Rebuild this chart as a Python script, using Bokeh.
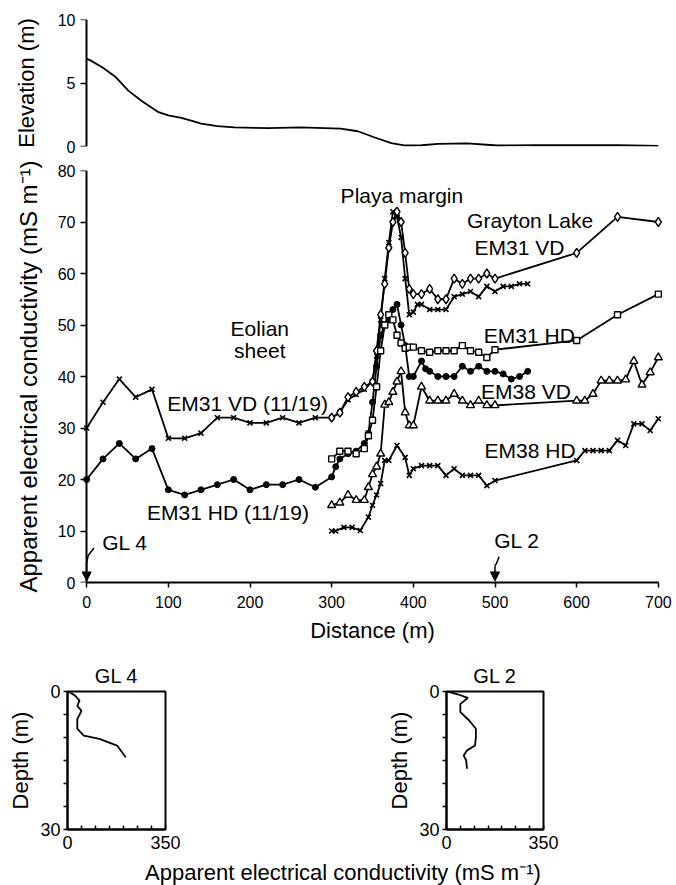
from bokeh.plotting import figure
from bokeh.layouts import column, row
from bokeh.models import Range1d, FixedTicker, Arrow, NormalHead, Label, LinearAxis
from bokeh.core.properties import value
from bokeh.embed import file_html
from bokeh.resources import INLINE

FONT = "Liberation Sans"

# ---------------- data ----------------
elev_dist = [0, 4, 20, 35, 51, 67, 88, 100, 116, 130, 140, 160, 181, 222, 262, 311, 332, 352, 373, 389, 410, 430, 466, 503, 550, 600, 650, 700]
elevation = [6.9, 6.8, 6.2, 5.5, 4.4, 3.6, 2.7, 2.45, 2.25, 2.0, 1.8, 1.6, 1.5, 1.45, 1.5, 1.4, 1.2, 0.73, 0.26, 0.08, 0.1, 0.2, 0.25, 0.08, 0.1, 0.1, 0.1, 0.05]

dist_em31vd_1119 = [0, 20, 40, 60, 80, 100, 120, 140, 160, 180, 200, 220, 240, 260, 280, 300, 310, 320, 330, 340,
                    350, 355, 360, 365, 370, 375, 380, 385, 390, 395, 400, 405,
                    410, 420, 430, 440, 450, 460, 470, 480, 490, 500, 510, 520, 530, 540]
em31vd_1119 = [30, 35, 39.5, 36, 37.5, 28, 28, 29, 32, 32, 31, 31, 32, 31, 32, 32, 33, 35.5, 36.5, 37.5,
               39, 44, 51, 59, 66, 72, 71, 67, 59, 52, 52.5, 54,
               54, 53, 53, 53, 55.5, 56, 56.5, 55.5, 57.5, 56.5, 57.5, 57.5, 58, 58]

dist_em31hd_1119 = [0, 20, 40, 60, 80, 100, 120, 140, 160, 180, 200, 220, 240, 260, 280, 300, 305, 310, 320, 330, 340, 345,
                    350, 355, 360, 365, 370, 375, 380, 385, 390, 395, 400,
                    410, 415, 420, 430, 440, 450, 460, 470, 480, 490, 500, 510, 520, 530, 540]
em31hd_1119 = [20, 24, 27, 24, 26, 18, 17, 18, 19, 20, 18, 19, 19, 20, 18.5, 20.5, 22.5, 24, 25, 25.5, 27, 29,
               35, 42, 48, 50, 51, 53, 54, 50, 46, 40, 40,
               43, 41.5, 41, 40, 40, 40, 42, 41, 42, 41, 41, 40.5, 39.5, 40, 41]

dist_em31vd = [300, 310, 320, 330, 340, 350, 355, 360, 365, 370, 375, 380, 385, 390, 395, 400,
               410, 420, 430, 440, 450, 460, 470, 480, 490, 500, 600, 650, 700]
em31vd = [32, 33, 36, 37, 38, 39, 45, 52, 58, 65, 70, 72, 70, 64, 57, 56,
          56, 57, 55, 55, 59, 58, 59, 59, 60, 59, 64, 71, 70]

dist_em31hd = [300, 310, 320, 330, 340, 345, 350, 355, 360, 365, 370, 375, 380, 385, 390, 395, 400,
               410, 420, 430, 440, 450, 460, 470, 480, 490, 500, 600, 650, 700]
em31hd = [24, 25.5, 25.5, 25, 26, 28.5, 31.5, 38, 45, 50, 52, 51, 48, 46.5, 45.5, 45.7, 45.7,
          45, 44.7, 45, 45, 45, 46, 45, 44.7, 43.7, 45.2, 47, 52, 56]

dist_em38vd = [300, 310, 320, 330, 340, 345, 350, 355, 360, 365, 370, 375, 380, 385, 390, 395, 400,
               410, 420, 430, 440, 450, 460, 470, 480, 490, 500,
               600, 610, 620, 630, 640, 650, 660, 670, 680, 690, 700]
em38vd = [15, 15.5, 17, 16, 16, 18.5, 21, 22.5, 25, 34.5, 35, 37, 39, 41, 33, 30.5, 30.5,
          38, 35.3, 35.3, 35.3, 36.6, 35.3, 34.4, 35.3, 34.4, 34.4,
          35.3, 35.3, 36.6, 39.2, 39.2, 39.2, 39.4, 43, 38.4, 40.8, 43.7]

dist_em38hd = [300, 305, 315, 325, 335, 345, 350, 355, 360, 365, 370, 380, 390, 395, 400,
               410, 420, 430, 440, 450, 460, 470, 480, 490, 500,
               600, 610, 620, 630, 640, 650, 660, 670, 680, 690, 700]
em38hd = [10, 10, 10.7, 10.7, 10.1, 12.7, 15, 17, 19.2, 23.7, 23.7, 26.6, 24.3, 20.8, 22.1,
          22.7, 22.7, 22.7, 20.8, 22.1, 20.8, 20.8, 20.8, 18.8, 19.8,
          23.7, 25.6, 25.6, 25.6, 25.6, 27.6, 26.6, 30.8, 30.8, 29.5, 31.8]

gl4_cond = [3, 27, 43, 35, 50, 35, 35, 58, 114, 177, 208]
gl4_depth = [0, 0.9, 2, 3.1, 4.2, 6, 8.1, 9.6, 10.3, 11.75, 14.3]
gl2_cond = [3, 40, 77, 50, 50, 82, 106, 106, 103, 74, 62, 71, 74]
gl2_depth = [0, 0.6, 1.4, 2.7, 4.5, 6.3, 8.1, 10, 11.75, 12.8, 13.9, 15, 16.8]

elev_ticks = [0, 5, 10]
cond_ticks = [0, 10, 20, 30, 40, 50, 60, 70, 80]
dist_ticks = [0, 100, 200, 300, 400, 500, 600, 700]
depth_ticks = [0, 5, 10, 15, 20, 25, 30]
well_cond_ticks = [0, 50, 100, 150, 200, 250, 300, 350]


def base_style(p):
    p.grid.visible = False
    p.outline_line_color = None
    p.background_fill_color = "white"
    p.border_fill_color = "white"


def axis_style(ax, tick_size="16px", label_size="22px"):
    ax.axis_line_color = "black"
    ax.axis_line_width = 2
    ax.major_tick_line_color = "black"
    ax.major_tick_line_width = 1.5
    ax.minor_tick_line_color = None
    ax.major_label_text_font = FONT
    ax.major_label_text_font_size = tick_size
    ax.major_label_text_color = "black"
    ax.axis_label_text_font = FONT
    ax.axis_label_text_font_size = label_size
    ax.axis_label_text_font_style = "normal"
    ax.axis_label_text_color = "black"


def split_y_axis(p, ticks, bounds, label, label_standoff, label_size):
    # labelled axis at the frame edge (no line, no ticks)
    lab = p.yaxis[0]
    lab.ticker = FixedTicker(ticks=ticks)
    lab.axis_label = label
    axis_style(lab, label_size=label_size)
    lab.axis_line_color = None
    lab.major_tick_line_color = None
    lab.major_tick_out = 0
    lab.major_tick_in = 0
    lab.major_label_standoff = 3
    lab.axis_label_standoff = label_standoff
    # line + ticks placed exactly at distance 0
    line_ax = LinearAxis(fixed_location=0, ticker=FixedTicker(ticks=ticks), bounds=bounds,
                         major_label_overrides={t: "" for t in ticks})
    axis_style(line_ax)
    line_ax.major_tick_out = 6
    line_ax.major_tick_in = 0
    p.add_layout(line_ax, "left")


# ---------------- elevation panel ----------------
top = figure(width=676, height=160, x_range=Range1d(-10, 710), y_range=Range1d(0, 10),
             x_axis_location=None, output_backend="svg", toolbar_location=None,
             min_border_left=78, min_border_right=10, min_border_top=19, min_border_bottom=14)
base_style(top)
split_y_axis(top, elev_ticks, (0, 10), "Elevation (m)", 16, "22px")
top.line(elev_dist, elevation, line_color="black", line_width=1.8)

# ---------------- main panel ----------------
main = figure(width=676, height=486, x_range=Range1d(-10, 710), y_range=Range1d(0, 80),
              output_backend="svg", toolbar_location=None,
              min_border_left=78, min_border_right=10, min_border_top=10, min_border_bottom=64)
base_style(main)
split_y_axis(main, cond_ticks, (0, 80), "Apparent electrical conductivity (mS m\u207b\u00b9)", 13, "24px")
main.xaxis.bounds = (0, 700)
main.xaxis.ticker = FixedTicker(ticks=dist_ticks)
main.xaxis.axis_label = "Distance (m)"
axis_style(main.xaxis[0])
main.xaxis.major_tick_out = 5
main.xaxis.major_tick_in = 0
main.xaxis.major_label_standoff = 8
main.xaxis.axis_label_standoff = 7

LW = 1.8
main.line(dist_em31vd_1119, em31vd_1119, line_color="black", line_width=LW)
main.scatter(dist_em31vd_1119, em31vd_1119, marker="x", size=7, line_color="black", line_width=1.6)
main.line(dist_em31hd_1119, em31hd_1119, line_color="black", line_width=LW)
main.scatter(dist_em31hd_1119, em31hd_1119, marker="circle", size=6, line_color="black", fill_color="black")
main.line(dist_em31vd, em31vd, line_color="black", line_width=LW)
main.scatter(dist_em31vd, em31vd, marker="diamond", size=9, line_color="black", fill_color="white", line_width=1.4)
main.line(dist_em31hd, em31hd, line_color="black", line_width=LW)
main.scatter(dist_em31hd, em31hd, marker="square", size=6, line_color="black", fill_color="white", line_width=1.4)
main.line(dist_em38vd, em38vd, line_color="black", line_width=LW)
main.scatter(dist_em38vd, em38vd, marker="triangle", size=8, line_color="black", fill_color="white", line_width=1.4)
main.line(dist_em38hd, em38hd, line_color="black", line_width=LW)
main.scatter(dist_em38hd, em38hd, marker="x", size=7, line_color="black", line_width=1.6)

labels = ["Playa margin", "Grayton Lake", "EM31 VD", "EM31 HD", "EM38 VD", "EM38 HD",
          "EM31 VD (11/19)", "EM31 HD (11/19)", "Eolian", "sheet", "GL 4", "GL 2"]
lab_x = [386, 543, 530, 542, 538, 543, 197, 173, 212, 212, 47, 527]
lab_y = [75.1, 70.3, 65.1, 48.0, 37.1, 25.6, 34.7, 13.5, 49.3, 45.0, 7.8, 8.2]
main.text(x=lab_x, y=lab_y, text=labels, text_font=value(FONT), text_font_size="21px",
          text_align="center", text_baseline="middle", text_color="black")

# GL arrows
main.line([9, 2, 0], [6.7, 5.3, 3.8], line_color="black", line_width=1.5)
main.add_layout(Arrow(x_start=0, y_start=3.8, x_end=0, y_end=0.3, line_width=1.5,
                      end=NormalHead(size=9, fill_color="black", line_color="black")))
main.line([505, 501.5, 500], [5.0, 3.6, 3.3], line_color="black", line_width=1.5)
main.add_layout(Arrow(x_start=500, y_start=3.3, x_end=500, y_end=0.3, line_width=1.5,
                      end=NormalHead(size=9, fill_color="black", line_color="black")))


# ---------------- well logs ----------------
def well_fig(name, cond, depth, left, right):
    p = figure(width=338, height=209, x_range=Range1d(0, 350), y_range=Range1d(30, 0),
               output_backend="svg", toolbar_location=None,
               min_border_left=left, min_border_right=right, min_border_top=45, min_border_bottom=26,
               title=name)
    base_style(p)
    p.outline_line_color = "black"
    p.outline_line_width = 2
    p.title.align = "center"
    p.title.text_font = FONT
    p.title.text_font_size = "20px"
    p.title.text_font_style = "normal"
    p.title.text_color = "black"
    p.xaxis.ticker = FixedTicker(ticks=well_cond_ticks)
    p.xaxis.major_label_overrides = {50: "", 100: "", 150: "", 200: "", 250: "", 300: ""}
    p.yaxis.ticker = FixedTicker(ticks=depth_ticks)
    p.yaxis.major_label_overrides = {5: "", 10: "", 15: "", 20: "", 25: ""}
    p.yaxis.axis_label = "Depth (m)"
    for ax in (p.xaxis[0], p.yaxis[0]):
        axis_style(ax, tick_size="18px", label_size="22px")
    p.xaxis.major_tick_in = 4
    p.xaxis.major_tick_out = 0
    p.yaxis.major_tick_in = 0
    p.yaxis.major_tick_out = 4
    p.xaxis.major_label_standoff = 6
    p.yaxis.major_label_standoff = 3
    p.yaxis.axis_label_standoff = 4
    p.line(cond, depth, line_color="black", line_width=1.8)
    return p


gl4 = well_fig("GL 4", gl4_cond, gl4_depth, 67, 173)
gl2 = well_fig("GL 2", gl2_cond, gl2_depth, 108, 133)

strip = figure(width=676, height=30, x_range=Range1d(0, 676), y_range=Range1d(0, 30),
               x_axis_location=None, y_axis_location=None, output_backend="svg",
               toolbar_location=None, min_border=0)
base_style(strip)
strip.add_layout(Label(x=304, y=13, text="Apparent electrical conductivity (mS m\u207b\u00b9)",
                       text_font=FONT, text_font_size="22px", text_align="center",
                       text_baseline="middle", text_color="black"))

layout = column(top, main, row(gl4, gl2), strip)
open("out.html", "w").write(file_html(layout, INLINE))
